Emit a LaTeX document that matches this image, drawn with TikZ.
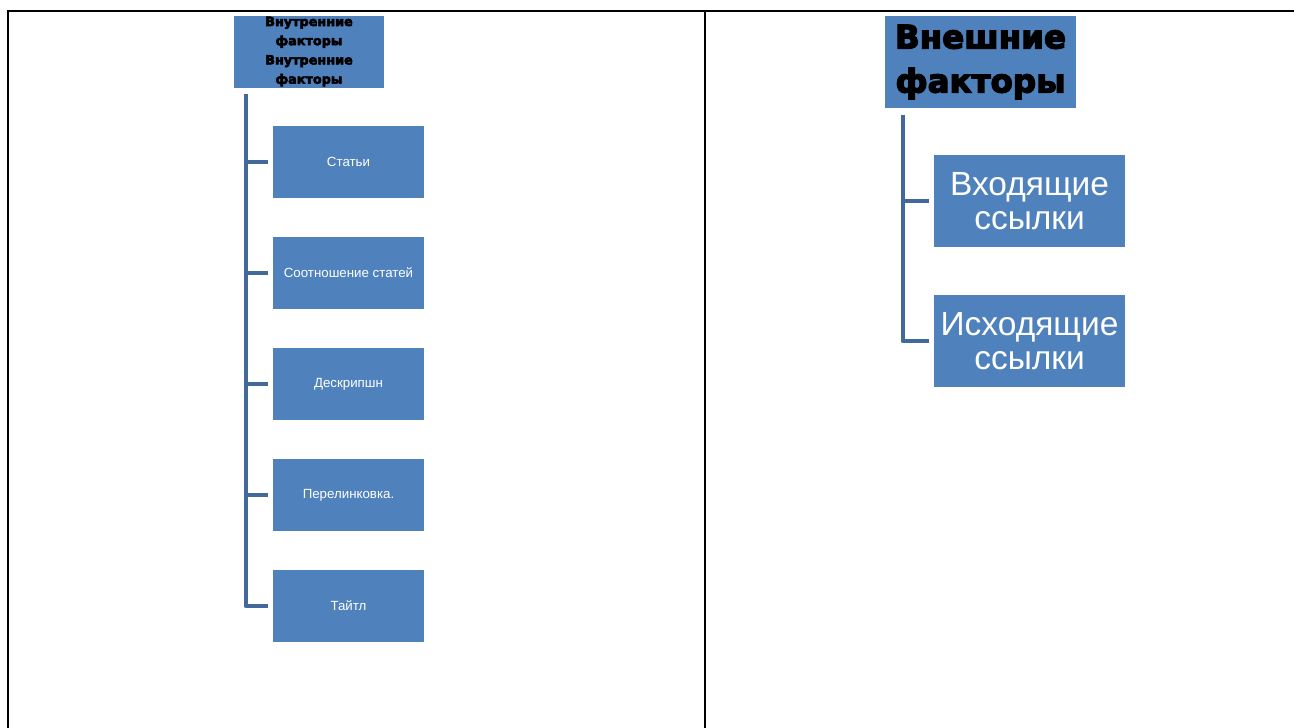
\documentclass[tikz,border=0pt]{standalone}
\usepackage{fontspec}
\setmainfont{Liberation Sans}
\newfontfamily\heavyfont[FakeBold=4]{DejaVu Sans Bold}
\usetikzlibrary{calc}
\definecolor{boxblue}{HTML}{4F81BD}
\definecolor{linkblue}{HTML}{41699B}
\tikzset{
  frame/.style={line width=2.6pt, black},
  item/.style={fill=boxblue, text=white, align=center, inner sep=0pt},
  link/.style={draw=linkblue, line width=4.5pt, line join=round}
}
\begin{document}
\begin{tikzpicture}[x=1pt, y=-1pt]

		\useasboundingbox (0,0) rectangle (1294,728);

		\draw[frame] (8,728) -- (8,11) -- (1294,11);
		\draw[frame] (705,11) -- (705,728);

		\node (inner) at (309,51.5) [item, minimum width=150, minimum height=72, text=black,
		      font=\heavyfont\fontsize{12.8}{19.2}\selectfont] {Внутренние\\факторы\\Внутренние\\факторы};

		\foreach \name/\y/\txt in {st/162/Статьи, so/273/Соотношение статей, de/384/Дескрипшн,
		                          pe/495/Перелинковка., ti/606/Тайтл} {
		    \node (\name) at (348.5,\y) [item, minimum width=151, minimum height=72,
		          font=\fontsize{13.3}{16}\selectfont] {\txt};
		}

		\coordinate (ltop) at ([shift={(12,6)}]inner.south west);
		\draw[link] (ltop) |- ([xshift=-5]ti.west);
		\foreach \name in {st,so,de,pe} {
		    \draw[link] (ltop |- \name.west) -- ([xshift=-5]\name.west);
		}

		\node (outer) at (980.5,62) [item, minimum width=191, minimum height=92, text=black,
		      font=\heavyfont\fontsize{32.5}{44}\selectfont] {Внешние\\факторы};

		\node (in) at (1029.5,201) [item, minimum width=191, minimum height=92,
		      font=\fontsize{33.5}{34.5}\selectfont] {Входящие\\ссылки};
		\node (out) at (1029.5,341) [item, minimum width=191, minimum height=92,
		      font=\fontsize{33.5}{34.5}\selectfont] {Исходящие\\ссылки};

		\coordinate (rtop) at ([shift={(18,7)}]outer.south west);
		\draw[link] (rtop) |- ([xshift=-5]out.west);
		\draw[link] (rtop |- in.west) -- ([xshift=-5]in.west);
	\end{tikzpicture}
\end{document}
